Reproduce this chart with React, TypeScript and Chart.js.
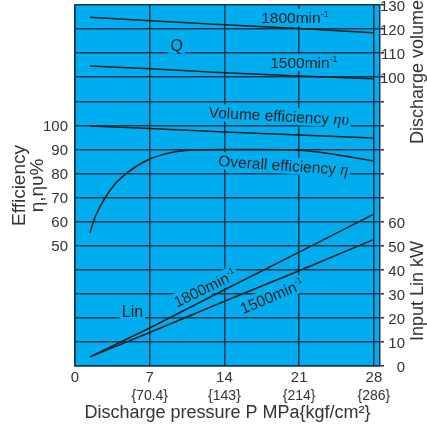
import React, { useEffect, useRef } from 'react';
import { Chart, registerables } from 'chart.js';

Chart.register(...registerables);

// ---------- data ----------
const pressureTicks = [0, 7, 14, 21, 28];
const pressureLabels = ['0', '7', '14', '21', '28'];
const kgfLabels = ['', '{70.4}', '{143}', '{214}', '{286}'];
const effTicks = [50, 60, 70, 80, 90, 100];
const volTicks = [100, 110, 120, 130];
const linTicks = [0, 10, 20, 30, 40, 50, 60];

const linePressure = [1.4, 7, 14, 21, 27.9];
const q1800 = [124.9, 123.5, 121.8, 120.2, 118.5];
const q1500 = [104.7, 103.5, 101.9, 100.5, 99.4];
const volumeEff = [99.7, 98.7, 97.2, 96.0, 94.7];
const lin1800 = [3.8, 15.8, 31.7, 47.3, 62.9];
const lin1500 = [3.8, 13.9, 26.9, 39.6, 52.4];

const overallPressure = [1.4, 1.9, 2.8, 3.8, 5.0, 7.0, 9.4, 11.7, 14, 17.5, 21, 24.5, 27.9];
const overallEff = [55.4, 62.0, 69.7, 75.9, 80.7, 86.0, 89.0, 89.8, 90.0, 90.0, 89.6, 87.8, 85.3];

// axis ranges (all three value axes share the same 15 grid divisions)
const X_MAX = 28.57;
const EFF_MIN = 0, EFF_MAX = 150;
const VOL_MIN = -20, VOL_MAX = 130;
const LIN_MIN = 0, LIN_MAX = 150;

// ---------- styles ----------
const FONT = '"Liberation Sans", Arial, Helvetica, sans-serif';
const GREEK_FONT = '"Liberation Serif", "DejaVu Serif", serif';
const BLUE = '#00aeef';
const GRID = '#1b3450';
const INK = '#231f20';
const AXIS_TEXT = '#333333';
const LABEL_SIZE = 15.5;
const SUP_SIZE = 9;

type Part = { t: string; sup?: boolean; greek?: boolean };
type Note = { parts: Part[]; x: number; y: number; rot: number; size?: number };

// in-plot labels, anchored in (pressure, efficiency-axis) coordinates
const notes: Note[] = [
  { parts: [{ t: '1800min' }, { t: '-1', sup: true }], x: 20.6, y: 144.8, rot: 0 },
  { parts: [{ t: '1500min' }, { t: '-1', sup: true }], x: 21.44, y: 126.1, rot: 0 },
  { parts: [{ t: 'Q' }], x: 9.52, y: 133.4, rot: 0, size: 16 },
  { parts: [{ t: 'Volume efficiency ' }, { t: 'ηυ', greek: true }], x: 19.1, y: 104.0, rot: 3 },
  { parts: [{ t: 'Overall efficiency ' }, { t: 'η', greek: true }], x: 19.52, y: 83.5, rot: 4 },
  { parts: [{ t: '1800min' }, { t: '-1', sup: true }], x: 12.17, y: 32.4, rot: -26 },
  { parts: [{ t: '1500min' }, { t: '-1', sup: true }], x: 18.45, y: 29.1, rot: -23 },
  { parts: [{ t: 'Lin' }], x: 5.38, y: 22.9, rot: 0, size: 16 },
];

const rightTitles = [
  { text: 'Discharge volume', y: 122.2 },
  { text: 'Input Lin kW', y: 31.2 },
];

function drawNote(ctx: CanvasRenderingContext2D, chart: any, n: Note, mode: 'box' | 'text') {
  const px = chart.scales.x.getPixelForValue(n.x);
  const py = chart.scales.yEff.getPixelForValue(n.y);
  const size = n.size ?? LABEL_SIZE;
  ctx.save();
  ctx.translate(px, py);
  ctx.rotate((n.rot * Math.PI) / 180);
  const pieces = n.parts.map((p) => {
    const font = p.sup
      ? `${SUP_SIZE}px ${FONT}`
      : p.greek
      ? `italic ${size + 1}px ${GREEK_FONT}`
      : `${size}px ${FONT}`;
    ctx.font = font;
    return { ...p, font, w: ctx.measureText(p.t).width };
  });
  const total = pieces.reduce((s, p) => s + p.w, 0);
  if (mode === 'box') {
    ctx.fillStyle = BLUE;
    ctx.fillRect(-total / 2 - 2, -size * 0.55, total + 4, size * 1.1);
  } else {
    ctx.fillStyle = INK;
    ctx.textAlign = 'left';
    ctx.textBaseline = 'alphabetic';
    const base = size * 0.36;
    let cx = -total / 2;
    for (const p of pieces) {
      ctx.font = p.font;
      ctx.fillText(p.t, cx, p.sup ? base - size * 0.42 : base);
      cx += p.w;
    }
  }
  ctx.restore();
}

const decorPlugin = {
  id: 'decor',
  beforeDraw(chart: any) {
    const { ctx, chartArea: a } = chart;
    ctx.save();
    ctx.fillStyle = BLUE;
    ctx.fillRect(a.left, a.top, a.right - a.left, a.bottom - a.top);
    ctx.restore();
  },
  beforeDatasetsDraw(chart: any) {
    notes.forEach((n) => drawNote(chart.ctx, chart, n, 'box'));
  },
  afterDatasetsDraw(chart: any) {
    notes.forEach((n) => drawNote(chart.ctx, chart, n, 'text'));
  },
  afterDraw(chart: any) {
    const { ctx } = chart;
    const s = chart.scales.yR;
    ctx.save();
    ctx.fillStyle = AXIS_TEXT;
    ctx.font = `18px ${FONT}`;
    ctx.textAlign = 'center';
    ctx.textBaseline = 'middle';
    rightTitles.forEach((t) => {
      ctx.save();
      ctx.translate(chart.width - 9, s.getPixelForValue(t.y));
      ctx.rotate(-Math.PI / 2);
      ctx.fillText(t.text, 0, 0);
      ctx.restore();
    });
    ctx.restore();
  },
};

const pts = (xs: number[], ys: number[]) => xs.map((x, i) => ({ x, y: ys[i] }));

const noPad = (s: any) => {
  s.paddingTop = 0;
  s.paddingBottom = 0;
  s.paddingLeft = 0;
  s.paddingRight = 0;
};

export default function App() {
  const ref = useRef<HTMLCanvasElement | null>(null);

  useEffect(() => {
    if (!ref.current) return;
    const lineStyle = {
      borderColor: INK,
      borderWidth: 1.5,
      pointRadius: 0,
      fill: false,
      tension: 0,
      xAxisID: 'x',
    };
    const setTicks = (s: any) => {
      s.ticks = pressureTicks.map((v) => ({ value: v }));
    };
    const chart = new Chart(ref.current, {
      type: 'line',
      data: {
        datasets: [
          { ...lineStyle, label: 'Q 1800', data: pts(linePressure, q1800), yAxisID: 'yVol' },
          { ...lineStyle, label: 'Q 1500', data: pts(linePressure, q1500), yAxisID: 'yVol' },
          { ...lineStyle, label: 'Volume efficiency', data: pts(linePressure, volumeEff), yAxisID: 'yEff' },
          {
            ...lineStyle,
            label: 'Overall efficiency',
            data: pts(overallPressure, overallEff),
            yAxisID: 'yEff',
            cubicInterpolationMode: 'monotone',
          },
          { ...lineStyle, label: 'Lin 1800', data: pts(linePressure, lin1800), yAxisID: 'yLin' },
          { ...lineStyle, label: 'Lin 1500', data: pts(linePressure, lin1500), yAxisID: 'yLin' },
        ] as any,
      },
      options: {
        responsive: false,
        animation: false,
        events: [],
        layout: { padding: { top: 5, left: 0, right: 22, bottom: 0 } },
        plugins: { legend: { display: false }, tooltip: { enabled: false } },
        scales: {
          x: {
            type: 'linear',
            position: 'bottom',
            min: 0,
            max: X_MAX,
            afterBuildTicks: setTicks,
            afterFit: (s: any) => {
              s.height = 20;
              noPad(s);
            },
            ticks: {
              autoSkip: false,
              maxRotation: 0,
              padding: 2.5,
              color: AXIS_TEXT,
              font: { family: FONT, size: 15 },
              callback: (_v: any, i: number) => pressureLabels[i],
            },
            grid: { color: GRID, lineWidth: 1.5, drawTicks: false },
            border: { color: GRID, width: 1.5 },
          },
          x2: {
            type: 'linear',
            position: 'bottom',
            min: 0,
            max: X_MAX,
            afterBuildTicks: setTicks,
            afterFit: (s: any) => {
              s.height = 46;
              noPad(s);
            },
            ticks: {
              autoSkip: false,
              maxRotation: 0,
              padding: -6,
              color: AXIS_TEXT,
              font: { family: FONT, size: 14 },
              callback: (_v: any, i: number) => kgfLabels[i],
            },
            grid: { display: false },
            border: { display: false },
            title: {
              display: true,
              text: 'Discharge pressure P MPa{kgf/cm²}',
              color: AXIS_TEXT,
              font: { family: FONT, size: 18 },
              padding: { top: 0, bottom: 8 },
            },
          },
          yEff: {
            type: 'linear',
            position: 'left',
            min: EFF_MIN,
            max: EFF_MAX,
            afterFit: (s: any) => {
              s.width = 75;
              noPad(s);
            },
            ticks: {
              stepSize: 10,
              autoSkip: false,
              padding: 7,
              labelOffset: 1.5,
              color: AXIS_TEXT,
              font: { family: FONT, size: 15 },
              callback: (v: any) => (effTicks.includes(v) ? String(v) : ''),
            },
            grid: { color: GRID, lineWidth: 1.5, drawTicks: false },
            border: { color: GRID, width: 1.5 },
            title: {
              display: true,
              text: ['Efficiency', 'η,ηυ%'],
              color: AXIS_TEXT,
              font: { family: FONT, size: 19, lineHeight: 0.95 },
              padding: { top: 11, bottom: 0 },
            },
          },
          yR: {
            type: 'linear',
            position: 'right',
            min: LIN_MIN,
            max: LIN_MAX,
            afterFit: (s: any) => {
              s.width = 25;
              noPad(s);
            },
            ticks: {
              stepSize: 10,
              autoSkip: false,
              crossAlign: 'far',
              padding: 0,
              labelOffset: 2,
              color: AXIS_TEXT,
              font: { family: FONT, size: 15 },
              callback: (v: any) => {
                if (linTicks.includes(v)) return String(v);
                const vol = VOL_MIN + ((v - LIN_MIN) * (VOL_MAX - VOL_MIN)) / (LIN_MAX - LIN_MIN);
                return volTicks.includes(vol) ? String(vol) : '';
              },
            },
            grid: { color: GRID, lineWidth: 1.5, drawOnChartArea: false, drawTicks: true, tickLength: 4 },
            border: { color: GRID, width: 1.5 },
          },
          yVol: { type: 'linear', display: false, min: VOL_MIN, max: VOL_MAX },
          yLin: { type: 'linear', display: false, min: LIN_MIN, max: LIN_MAX },
        },
      } as any,
      plugins: [decorPlugin],
    });
    return () => chart.destroy();
  }, []);

  return (
    <div style={{ position: 'absolute', left: 0, top: 0, width: 427, height: 432, background: '#fff' }}>
      <canvas ref={ref} width={427} height={432} style={{ display: 'block' }} />
    </div>
  );
}
